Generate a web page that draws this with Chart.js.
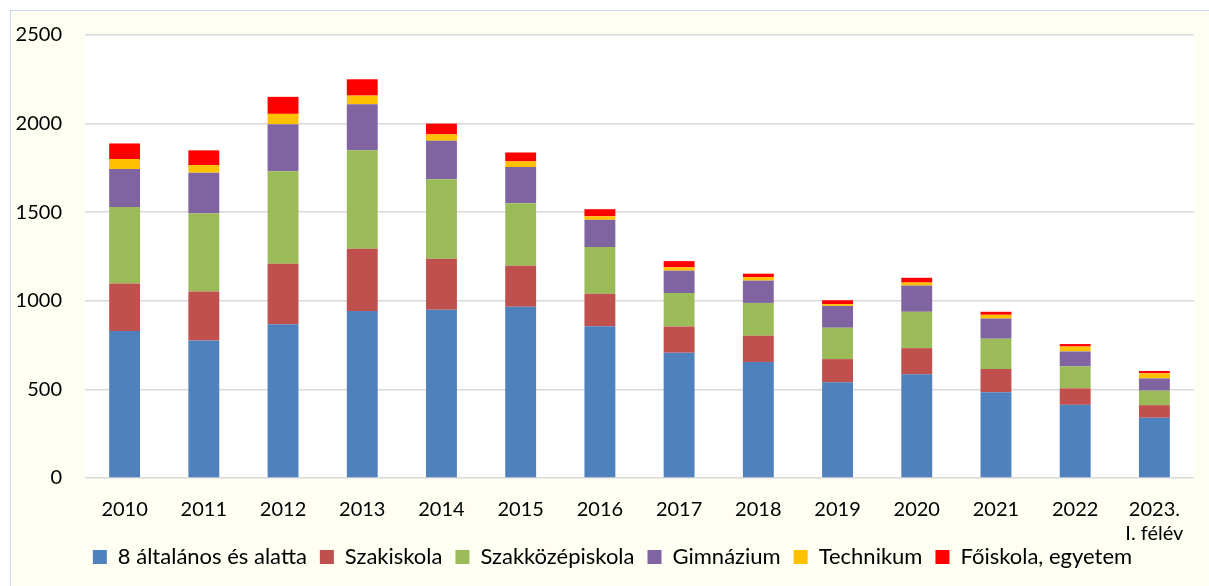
<!DOCTYPE html>
<html>
<head>
<meta charset="utf-8">
<script src="https://cdn.jsdelivr.net/npm/chart.js@4/dist/chart.umd.min.js"></script>
<style>
  body { margin: 0; background: #fff; }
  #frame { position: absolute; left: 10px; top: 10px; width: 1209px; height: 586px;
           border-left: 1px solid #c6d9f1; border-top: 1px solid #c6d9f1; background: #fefef3; }
  #wrap { position: absolute; left: 0; top: 0; width: 1209px; height: 586px; }
</style>
</head>
<body>
<div id="frame"></div>
<div id="wrap"><canvas id="chart"></canvas></div>
<script>
const labels = ['2010','2011','2012','2013','2014','2015','2016','2017','2018','2019','2020','2021','2022',['2023.','I. félév']];
const alt8       = [830,776,868,943,950,966,857,707,655,540,585,484,413,340];
const szakiskola = [267,276,341,351,287,232,183,148,148,131,148,131,93,71];
const szakkozep  = [433,442,522,556,449,353,263,189,185,177,205,171,124,82];
const gimnazium  = [214,229,266,259,217,204,154,126,126,123,148,114,84,69];
const technikum  = [56,43,58,49,36,32,20,19,20,10,17,21,28,29];
const foiskola   = [88,83,96,92,61,50,40,35,19,22,27,17,14,13];

// plot area white on cream background
const plotBg = {
  id: 'plotBg',
  beforeDraw(chart) {
    const a = chart.chartArea, c = chart.ctx;
    c.save();
    c.fillStyle = '#ffffff';
    c.fillRect(a.left, a.top, a.right - a.left, a.bottom - a.top);
    c.restore();
  }
};

// legend sits a little over the second label line, like the original
const legendShift = {
  id: 'legendShift',
  afterLayout(chart) {
    const l = chart.legend;
    l.top -= 19; l.bottom -= 19;
    l.left += 8; l.right += 8;
  }
};

const font = { family: 'Lato', size: 20 };

new Chart(document.getElementById('chart').getContext('2d'), {
  type: 'bar',
  data: {
    labels: labels,
    datasets: [
      { label: '8 általános és alatta', data: alt8, backgroundColor: '#4f81bd' },
      { label: 'Szakiskola', data: szakiskola, backgroundColor: '#c0504d' },
      { label: 'Szakközépiskola', data: szakkozep, backgroundColor: '#9bbb59' },
      { label: 'Gimnázium', data: gimnazium, backgroundColor: '#8064a2' },
      { label: 'Technikum', data: technikum, backgroundColor: '#ffc000' },
      { label: 'Főiskola, egyetem', data: foiskola, backgroundColor: '#ff0000' }
    ]
  },
  options: {
    responsive: true,
    maintainAspectRatio: false,
    animation: false,
    categoryPercentage: 1,
    barPercentage: 0.39,
    layout: { padding: { left: 15, right: 15, top: 23, bottom: -11 } },
    scales: {
      x: {
        stacked: true,
        grid: { display: false },
        border: { display: false },
        ticks: { font: font, color: '#000', padding: 12, maxRotation: 0, autoSkip: false },
        afterFit(scale) { scale.height = 74; }
      },
      y: {
        stacked: true,
        min: 0,
        max: 2500,
        grid: { color: '#d9d9d9', lineWidth: 1.5, drawTicks: false },
        border: { display: false },
        ticks: { font: font, color: '#000', stepSize: 500, padding: 23, callback: v => String(v) },
        afterFit(scale) { scale.width = 70; }
      }
    },
    plugins: {
      tooltip: { enabled: false },
      legend: {
        position: 'bottom',
        labels: { font: { family: 'Lato', size: 22 }, color: '#000', boxWidth: 14, boxHeight: 14, padding: 13 }
      }
    }
  },
  plugins: [plotBg, legendShift]
});
</script>
</body>
</html>
